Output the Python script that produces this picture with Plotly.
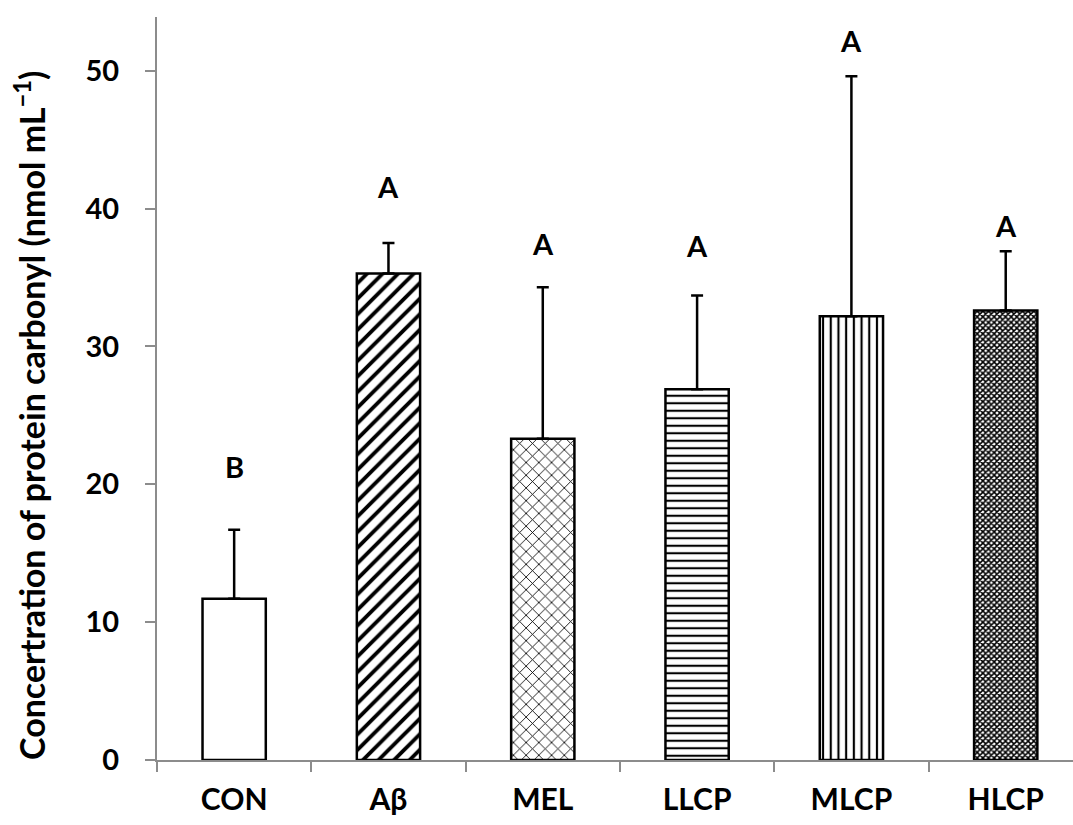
import plotly.graph_objects as go

categories = ["CON", "Aβ", "MEL", "LLCP", "MLCP", "HLCP"]
means = [11.7, 35.3, 23.3, 26.9, 32.2, 32.6]
err_upper = [5.0, 2.2, 11.0, 6.8, 17.4, 4.3]
letters = ["B", "A", "A", "A", "A", "A"]
letter_y = [21.3, 41.6, 37.5, 37.3, 52.2, 38.8]

patterns = ["", "/", "x", "-", "|", "x"]
pat_size = [8, 11, 9, 7.5, 7.7, 4]
pat_solid = [0.2, 0.35, 0.18, 0.28, 0.28, 0.62]

FONT = "Lato"
W, H = 1073, 825
ML, MR, MT, MB = 157, 0, 17, 65
PW, PH = W - ML - MR, H - MT - MB

fig = go.Figure()
fig.add_trace(go.Bar(
    x=categories, y=means, width=0.41,
    marker=dict(color="white", line=dict(color="black", width=2.5),
                pattern=dict(shape=patterns, size=pat_size, solidity=pat_solid,
                             fgcolor="black", bgcolor="white", fgopacity=1,
                             fillmode="replace")),
    error_y=dict(type="data", symmetric=False, array=err_upper,
                 arrayminus=[0] * len(means), color="black", thickness=2.5, width=6),
    showlegend=False,
))

for c, l, yy in zip(categories, letters, letter_y):
    fig.add_annotation(x=c, y=yy, text=l, showarrow=False, xref="x", yref="y",
                       font=dict(family=FONT, size=29, color="black", weight="bold"))

fig.add_annotation(x=(6 - ML) / PW, y=(H - MB - 416) / PH, xref="paper", yref="paper",
                   text="Concertration of protein carbonyl (nmol mL<sup>−1</sup>)",
                   showarrow=False, textangle=-90,
                   font=dict(family=FONT, size=34, color="black", weight="bold"))

fig.update_layout(
    width=W, height=H,
    margin=dict(l=ML, r=MR, t=MT, b=MB),
    plot_bgcolor="white", paper_bgcolor="white",
    font=dict(family=FONT, size=29, color="black", weight="bold"),
)
fig.update_xaxes(range=[-0.5, 5.436], showline=True, linecolor="#8c8c8c", linewidth=2,
                 ticks="outside", tickson="boundaries", ticklen=10, tickcolor="#8c8c8c",
                 tickwidth=2, showgrid=False, zeroline=False, ticklabelstandoff=12,
                 tickfont=dict(family=FONT, size=30, color="black", weight="bold"))
fig.update_yaxes(range=[0, 53.9], dtick=10, showline=True, linecolor="#8c8c8c", linewidth=2,
                 ticks="outside", ticklen=10, tickcolor="#8c8c8c", tickwidth=2,
                 showgrid=False, zeroline=False, ticklabelstandoff=20,
                 tickfont=dict(family=FONT, size=29, color="black", weight="bold"))
fig.write_html("out.html")
